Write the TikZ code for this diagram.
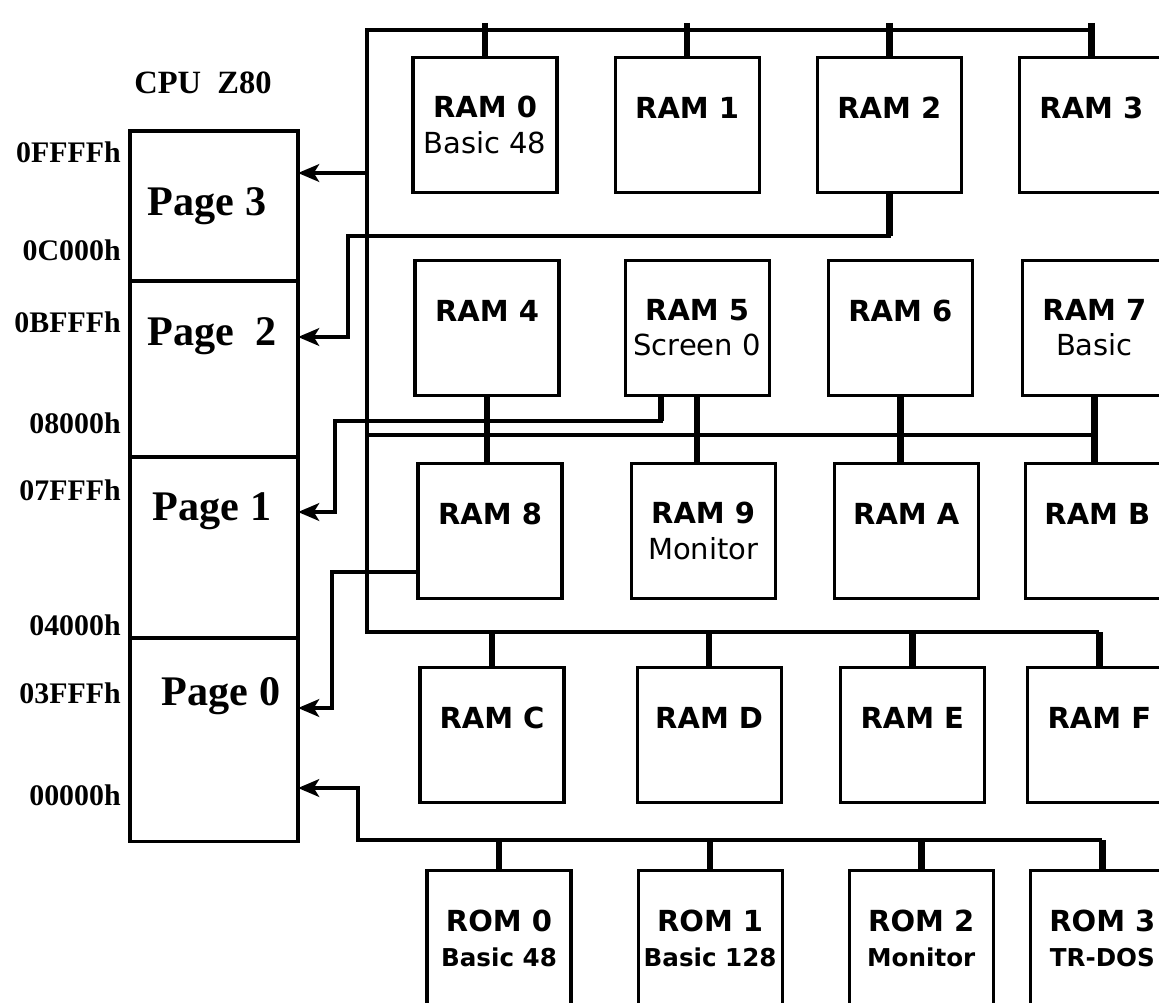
\documentclass[tikz,border=0pt]{standalone}
\usepackage{fontspec}
\setmainfont{Liberation Serif}
\newfontfamily\banksf{DejaVu Sans}
\usetikzlibrary{arrows.meta,positioning}

\begin{document}
\begin{tikzpicture}[
    x=0.02cm, y=-0.02cm,
    bank/.style={rectangle, draw, line width=1.8pt, minimum width=2.88cm, minimum height=2.7cm, inner sep=0pt, align=center, font=\banksf\fontsize{16.5}{20}\selectfont\bfseries},
    pagebox/.style={rectangle, draw, line width=1.8pt, minimum width=3.36cm, inner sep=0pt, outer sep=0pt},
    pagetxt/.style={anchor=base, inner sep=0pt, font=\fontsize{24}{26}\selectfont\bfseries},
    addr/.style={anchor=base east, inner sep=0pt, font=\fontsize{17}{20}\selectfont\bfseries},
    bus/.style={line width=2.8pt},
    stub/.style={line width=3.8pt},
    arrow/.style={->, >={Stealth[length=12pt,width=10pt,inset=3pt]}, line width=2.4pt}
]
    \useasboundingbox (0,0) rectangle (1159,1002);

    % CPU pages
    \node[anchor=base, font=\fontsize{18.5}{20}\selectfont\bfseries] (cpu) at (203,93) {CPU~~Z80};
    \node[pagebox, minimum height=3cm] (page3) at (214,206) {};
    \node[pagebox, minimum height=3.52cm, below=0pt of page3] (page2) {};
    \node[pagebox, minimum height=3.62cm, below=0pt of page2] (page1) {};
    \node[pagebox, minimum height=4.08cm, below=0pt of page1] (page0) {};
    \node[pagetxt] (lbl3) at (207,215) {Page 3};
    \node[pagetxt] (lbl2) at (212,345) {Page~~2};
    \node[pagetxt] (lbl1) at (212,520) {Page 1};
    \node[pagetxt] (lbl0) at (221,705) {Page 0};
    \foreach \adr/\yy [count=\i] in {0FFFFh/162, 0C000h/260, 0BFFFh/332, 08000h/433, 07FFFh/500, 04000h/635, 03FFFh/703, 00000h/805}
        \node[addr] (adr\i) at (121,\yy) {\adr};

    % RAM banks
    \node[bank] (ram0) at (485,125) {RAM 0\\{\mdseries Basic 48}};
    \node[bank, right=1.1cm of ram0] (ram1) {RAM 1\\\mbox{}};
    \node[bank, right=1.1cm of ram1] (ram2) {RAM 2\\\mbox{}};
    \node[bank, right=1.1cm of ram2] (ram3) {RAM 3\\\mbox{}};

    \node[bank] (ram4) at (487,328) {RAM 4\\\mbox{}};
    \node[bank, right=1.26cm of ram4] (ram5) {RAM 5\\{\mdseries Screen 0}};
    \node[bank, right=1.12cm of ram5] (ram6) {RAM 6\\\mbox{}};
    \node[bank, right=0.94cm of ram6] (ram7) {RAM 7\\{\mdseries Basic}};

    \node[bank] (ram8) at (490,531) {RAM 8\\\mbox{}};
    \node[bank, right=1.32cm of ram8] (ram9) {RAM 9\\{\mdseries Monitor}};
    \node[bank, right=1.12cm of ram9] (ramA) {RAM A\\\mbox{}};
    \node[bank, right=0.88cm of ramA] (ramB) {RAM B\\\mbox{}};

    \node[bank] (ramC) at (492,735) {RAM C\\\mbox{}};
    \node[bank, right=1.4cm of ramC] (ramD) {RAM D\\\mbox{}};
    \node[bank, right=1.12cm of ramD] (ramE) {RAM E\\\mbox{}};
    \node[bank, right=0.8cm of ramE] (ramF) {RAM F\\\mbox{}};

    % ROM banks
    \node[bank] (rom0) at (499,938) {ROM 0\\{\fontsize{14}{20}\selectfont Basic 48}};
    \node[bank, right=1.28cm of rom0] (rom1) {ROM 1\\{\fontsize{14}{20}\selectfont Basic 128}};
    \node[bank, right=1.28cm of rom1] (rom2) {ROM 2\\{\fontsize{14}{20}\selectfont Monitor}};
    \node[bank, right=0.68cm of rom2] (rom3) {ROM 3\\{\fontsize{14}{20}\selectfont TR-DOS}};

    % bank bus -> Page 3
    \coordinate (busTL) at (367,30);
    \coordinate (busML) at (367,435);
    \coordinate (busBL) at (367,632);
    \draw[bus] (ram3.north |- busTL) -- (busTL) -- (busBL) -- (busBL -| ramF.north);
    \draw[bus] (busML) -- (busML -| ram7.south);
    \foreach \b in {ram0,ram1,ram2,ram3}
        \draw[stub, shorten <=-4pt] (\b.north |- busTL) -- (\b.north);
    \foreach \b in {ramC,ramD,ramE,ramF}
        \draw[stub] (\b.north |- busBL) -- (\b.north);
    \foreach \a/\b in {ram4/ram8,ram5/ram9,ram6/ramA,ram7/ramB}
        \draw[stub] (\a.south) -- (\a.south |- \b.north);
    \coordinate (in3) at (367,173);
    \draw[arrow] (in3) -- (in3 -| page3.east);

    % Page 2
    \coordinate (p2a) at (348,236);
    \coordinate (p2b) at (348,337);
    \draw[arrow] (ram2.south) |- (p2a) -- (p2b) -- (p2b -| page2.east);
    \draw[stub] (ram2.south) -- (ram2.south |- p2a);

    % Page 1
    \coordinate (p1s) at ([xshift=-0.72cm]ram5.south);
    \coordinate (p1a) at (335,421);
    \coordinate (p1b) at (335,512);
    \draw[arrow] (p1s) |- (p1a) -- (p1b) -- (p1b -| page1.east);
    \draw[stub] (p1s) -- (p1s |- p1a);

    % Page 0
    \coordinate (p0a) at (332,572);
    \coordinate (p0b) at (332,708);
    \draw[arrow] (ram8.west |- p0a) -- (p0a) -- (p0b) -- (p0b -| page0.east);

    % ROM bus
    \coordinate (romA) at (358,840);
    \coordinate (romB) at (358,788);
    \draw[arrow] (rom3.north |- romA) -- (romA) -- (romB) -- (romB -| page0.east);
    \foreach \b in {rom0,rom1,rom2,rom3}
        \draw[stub] (\b.north |- romA) -- (\b.north);
\end{tikzpicture}
\end{document}
